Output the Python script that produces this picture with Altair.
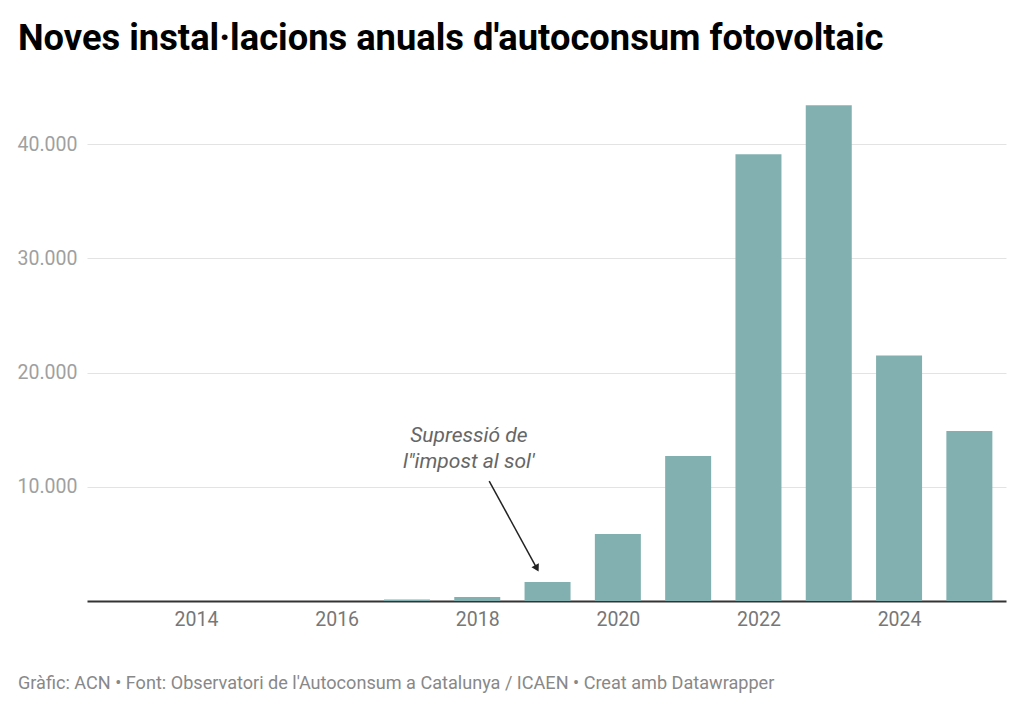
import altair as alt
import pandas as pd

years = [2013, 2014, 2015, 2016, 2017, 2018, 2019, 2020, 2021, 2022, 2023, 2024, 2025]
installs = [0, 0, 0, 0, 130, 350, 1660, 5860, 12690, 39120, 43410, 21500, 14880]

title_text = "Noves instal·lacions anuals d'autoconsum fotovoltaic"
footer_text = "Gràfic: ACN • Font: Observatori de l'Autoconsum a Catalunya / ICAEN • Creat amb Datawrapper"
note_lines = ["Supressió de", "l\"impost al sol'"]
arrow_start = (2018.17, 10500)
arrow_end = (2018.84, 2950)

FONT = "Roboto"
W, H = 919, 514

df = pd.DataFrame({"year": years, "value": installs})

xscale = alt.Scale(domain=[2012.52, 2025.45], nice=False, zero=False)
yscale = alt.Scale(domain=[0, 45000], nice=False)

bars = alt.Chart(df).mark_bar(color="#82b0b1", size=46).encode(
    x=alt.X("year:Q", scale=xscale,
            axis=alt.Axis(values=[2014, 2016, 2018, 2020, 2022, 2024], format="d",
                          title=None, ticks=False, grid=False, domain=True,
                          domainColor="#333333", domainWidth=2,
                          labelFont=FONT, labelFontSize=19.5, labelColor="#777777",
                          labelPadding=9)),
    y=alt.Y("value:Q", scale=yscale,
            axis=alt.Axis(values=[10000, 20000, 30000, 40000], title=None,
                          ticks=False, domain=False, grid=True,
                          gridColor="#e3e3e3", gridWidth=1,
                          labelExpr="replace(format(datum.value, ',d'), ',', '.')",
                          labelFont=FONT, labelFontSize=19.5, labelColor="#a0a0a0",
                          labelPadding=10)),
)

arrow_df = pd.DataFrame({"x": [arrow_start[0]], "y": [arrow_start[1]],
                         "x2": [arrow_end[0]], "y2": [arrow_end[1]]})
arrow_line = alt.Chart(arrow_df).mark_rule(color="#222222", strokeWidth=1.5).encode(
    x=alt.X("x:Q", scale=xscale), y=alt.Y("y:Q", scale=yscale),
    x2="x2:Q", y2="y2:Q")
head_df = pd.DataFrame({"x": [arrow_end[0]], "y": [arrow_end[1]]})
arrow_head = alt.Chart(head_df).mark_point(shape="triangle", filled=True, size=70,
                                           angle=151.5, color="#222222", opacity=1).encode(
    x=alt.X("x:Q", scale=xscale), y=alt.Y("y:Q", scale=yscale))

note_df = pd.DataFrame({"x": [2017.88], "y": [13550], "t": ["\n".join(note_lines)]})
note = alt.Chart(note_df).mark_text(font=FONT, fontSize=21, fontStyle="italic",
                                    color="#666666", align="center", baseline="bottom",
                                    lineHeight=26, lineBreak="\n").encode(
    x=alt.X("x:Q", scale=xscale), y=alt.Y("y:Q", scale=yscale), text="t:N")

title_df = pd.DataFrame({"t": [title_text]})
title = alt.Chart(title_df).mark_text(font=FONT, fontSize=36.3, fontWeight="bold",
                                      color="#000000", align="left",
                                      baseline="alphabetic").encode(
    x=alt.value(-69), y=alt.value(-37), text="t:N")

footer_df = pd.DataFrame({"t": [footer_text]})
footer = alt.Chart(footer_df).mark_text(font=FONT, fontSize=18.1, color="#888888",
                                        align="left", baseline="alphabetic").encode(
    x=alt.value(-69), y=alt.value(602), text="t:N")

chart = alt.layer(bars, arrow_line, arrow_head, note, title, footer).properties(
    width=W, height=H,
    autosize=alt.AutoSizeParams(type="none"),
    padding={"left": 87, "top": 87, "right": 18, "bottom": 109},
    background="white",
).configure_view(stroke=None)

chart.save("out.html", embed_options={"renderer": "svg", "actions": False})
